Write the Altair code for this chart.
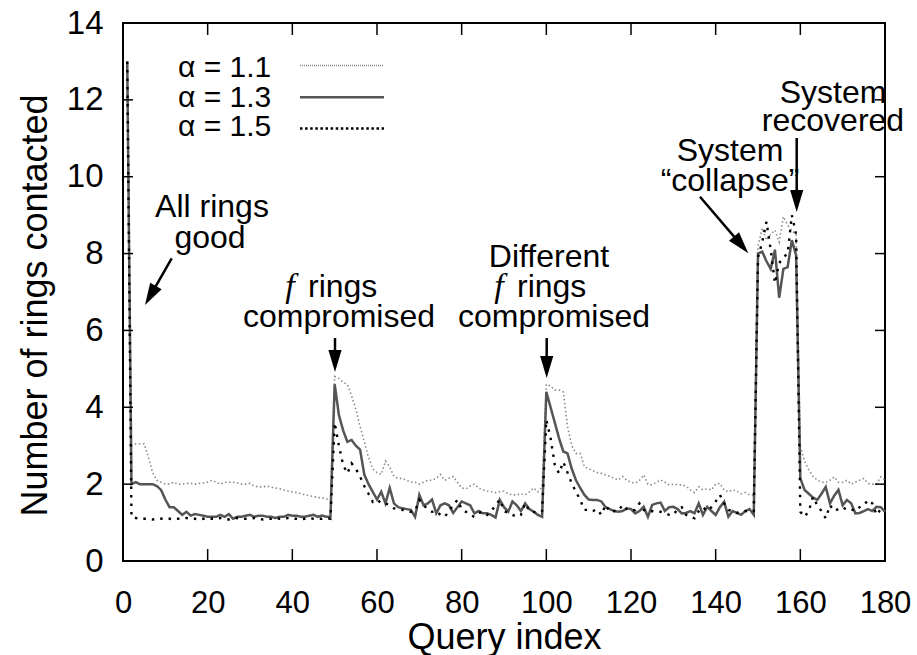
import math
import altair as alt
import pandas as pd

# ---------------- data ----------------
query = list(range(1, 181))

alpha_11 = [
    13, 3.0, 3.05, 3.05, 3.05, 2.7, 2.3, 2.1, 2.05, 2.0,
    2.0, 2.05, 2.0, 2.0, 2.02, 2.02, 2.0, 2.02, 2.03, 2.05,
    2.1, 2.05, 2.0, 2.05, 2.05, 2.05, 2.03, 2.0, 2.0, 2.02,
    1.95, 1.93, 1.93, 1.95, 1.92, 1.9, 1.88, 1.85, 1.82, 1.8,
    1.78, 1.75, 1.72, 1.7, 1.68, 1.65, 1.65, 1.62, 1.58, 4.8,
    4.75, 4.65, 4.6, 4.3, 3.95, 3.5, 3.1, 2.7, 2.4, 2.3,
    2.25, 2.6, 2.45, 2.2, 2.15, 2.15, 2.1, 2.05, 2.05, 2.0,
    2.05, 2.1, 2.1, 2.15, 2.25, 2.1, 2.15, 2.2, 2.05, 1.9,
    1.88, 1.95, 2.0, 1.9, 1.85, 1.82, 1.8, 1.78, 1.8, 1.82,
    1.75, 1.72, 1.72, 1.75, 1.72, 1.8, 1.9, 1.8, 1.93, 4.6,
    4.55, 4.45, 4.45, 4.4, 3.5, 3.0, 2.8, 2.8, 2.45, 2.4,
    2.35, 2.3, 2.28, 2.24, 2.2, 2.15, 2.11, 2.2, 2.1, 2.05,
    2.02, 2.1, 2.24, 2.0, 1.98, 2.05, 2.11, 2.05, 1.98, 2.0,
    1.98, 1.98, 1.95, 1.85, 1.78, 1.93, 1.85, 1.88, 1.85, 2.0,
    2.02, 1.85, 1.8, 1.85, 1.82, 1.75, 1.78, 1.72, 1.7, 8.2,
    8.66, 8.35, 8.5, 8.61, 8.3, 8.96, 8.74, 8.6, 8.5, 2.97,
    2.6, 2.37, 2.2, 2.11, 2.05, 2.04, 2.1, 2.19, 2.05, 2.05,
    2.1, 2.0, 2.05, 2.1, 2.15, 2.02, 2.0, 2.0, 2.19, 2.1,
]

alpha_13 = [
    13, 2.0, 2.05, 2.0, 2.0, 2.0, 2.0, 1.95, 1.85, 1.6,
    1.4, 1.4, 1.3, 1.2, 1.28, 1.18, 1.22, 1.2, 1.18, 1.15,
    1.15, 1.15, 1.2, 1.15, 1.22, 1.1, 1.15, 1.15, 1.18, 1.2,
    1.15, 1.18, 1.18, 1.15, 1.15, 1.12, 1.15, 1.15, 1.2, 1.18,
    1.18, 1.15, 1.15, 1.18, 1.2, 1.15, 1.18, 1.15, 1.15, 4.6,
    3.8, 3.4, 3.1, 3.15, 3.0, 2.9, 2.25, 2.0, 1.8, 1.6,
    1.8, 1.5, 1.9, 1.5, 1.4, 1.37, 1.35, 1.33, 1.15, 1.72,
    1.45, 1.5, 1.6, 1.24, 1.45, 1.5, 1.45, 1.25, 1.4, 1.55,
    1.5, 1.45, 1.24, 1.3, 1.24, 1.24, 1.2, 1.13, 1.59, 1.4,
    1.28, 1.55, 1.45, 1.3, 1.5, 1.35, 1.28, 1.2, 1.15, 4.4,
    4.0, 3.6, 3.2, 2.85, 2.8, 2.4, 2.1, 1.9, 1.72, 1.6,
    1.59, 1.59, 1.55, 1.4, 1.35, 1.3, 1.28, 1.3, 1.37, 1.35,
    1.24, 1.3, 1.41, 1.15, 1.46, 1.5, 1.52, 1.3, 1.4, 1.41,
    1.35, 1.24, 1.25, 1.3, 1.24, 1.5, 1.2, 1.41, 1.3, 1.2,
    1.4, 1.54, 1.15, 1.3, 1.25, 1.2, 1.3, 1.35, 1.2, 8.0,
    8.05, 7.8, 7.6, 8.1, 6.85, 7.6, 7.65, 8.35, 7.95, 2.15,
    1.85, 1.75, 1.65, 1.59, 1.75, 1.93, 1.5, 1.7, 1.85, 1.45,
    1.59, 1.5, 1.24, 1.25, 1.3, 1.35, 1.3, 1.41, 1.4, 1.28,
]

alpha_15 = [
    13, 1.15, 1.12, 1.1, 1.1, 1.1, 1.08, 1.1, 1.1, 1.12,
    1.1, 1.08, 1.1, 1.1, 1.12, 1.1, 1.1, 1.08, 1.1, 1.12,
    1.1, 1.1, 1.12, 1.1, 1.08, 1.1, 1.12, 1.1, 1.1, 1.1,
    1.12, 1.1, 1.08, 1.1, 1.1, 1.12, 1.1, 1.1, 1.12, 1.1,
    1.1, 1.08, 1.1, 1.12, 1.1, 1.1, 1.1, 1.12, 1.1, 3.6,
    3.0, 2.5, 2.28, 2.54, 2.4, 2.2, 1.95, 1.75, 1.54, 1.6,
    1.5, 1.5, 1.45, 1.37, 1.35, 1.33, 1.3, 1.28, 1.3, 1.59,
    1.45, 1.35, 1.28, 1.3, 1.2, 1.15, 1.3, 1.45, 1.59, 1.35,
    1.28, 1.2, 1.15, 1.25, 1.28, 1.2, 1.3, 1.45, 1.6, 1.3,
    1.25, 1.2, 1.15, 1.2, 1.5, 1.3, 1.28, 1.25, 1.3, 3.67,
    3.2, 2.5, 2.28, 2.58, 2.3, 2.02, 1.8, 1.59, 1.33, 1.33,
    1.3, 1.35, 1.2, 1.46, 1.28, 1.3, 1.3, 1.46, 1.35, 1.3,
    1.33, 1.5, 1.33, 1.28, 1.3, 1.28, 1.28, 1.25, 1.2, 1.2,
    1.35, 1.4, 1.2, 1.15, 1.11, 1.3, 1.4, 1.3, 1.4, 1.55,
    1.72, 1.5, 1.33, 1.3, 1.25, 1.28, 1.3, 1.28, 1.3, 7.9,
    8.3, 8.83, 8.1, 7.23, 7.75, 7.9, 8.0, 9.0, 8.5, 1.28,
    1.15, 1.3, 1.67, 1.45, 1.3, 1.11, 1.45, 1.3, 1.35, 1.4,
    1.33, 1.35, 1.3, 1.4, 1.45, 1.59, 1.5, 1.2, 1.35, 1.3,
]

series_labels = ["α = 1.1", "α = 1.3", "α = 1.5"]
x_tick_values = list(range(0, 181, 20))
y_tick_values = list(range(0, 15, 2))
x_title = "Query index"
y_title = "Number of rings contacted"

# ---------------- layout ----------------
W, H = 762, 538
LEFT, TOP = 123, 23
FONT = "Liberation Sans"
FS_X = 31     # x tick labels
FS_Y = 33     # y tick labels
FS_T = 36     # axis titles
FS_LEG = 30
FS_ANN = 32   # annotations

xs = alt.Scale(domain=[0, 180], nice=False, zero=False)
ys = alt.Scale(domain=[0, 14], nice=False, zero=False)


def q_of(px):
    return (px - LEFT) * 180.0 / W


def v_of(py):
    return (TOP + H - py) * 14.0 / H


line_styles = [
    dict(color="#8a8a8a", strokeWidth=1.6, strokeDash=[1.5, 2.5]),
    dict(color="#555555", strokeWidth=2.5),
    dict(color="#000000", strokeWidth=2.4, strokeDash=[2.5, 6]),
]
legend_dash = [[1.0, 1.0], None, [2.5, 2.6]]

x_axis = alt.Axis(values=x_tick_values, ticks=False, domain=False, grid=False,
                  labelFont=FONT, labelFontSize=FS_X, labelColor="black",
                  labelPadding=27, labelFlush=False, labelOverlap=False,
                  title=x_title, titleFont=FONT, titleFontSize=FS_T,
                  titleFontWeight="normal", titleColor="black",
                  titleX=W / 2, titleY=76, titleBaseline="middle", titleAlign="center")
y_axis = alt.Axis(values=y_tick_values, ticks=False, domain=False, grid=False,
                  labelFont=FONT, labelFontSize=FS_Y, labelColor="black",
                  labelPadding=20, labelOverlap=False,
                  title=y_title, titleFont=FONT, titleFontSize=FS_T,
                  titleFontWeight="normal", titleColor="black",
                  titleAngle=270, titleX=-88, titleY=282,
                  titleBaseline="middle", titleAlign="center")

X = lambda f: alt.X(f, scale=xs, axis=x_axis)
Y = lambda f: alt.Y(f, scale=ys, axis=y_axis)

layers = []
for i, vals in enumerate([alpha_11, alpha_13, alpha_15]):
    df = pd.DataFrame({"q": query, "v": vals})
    layers.append(alt.Chart(df).mark_line(strokeCap="butt", **line_styles[i]).encode(
        x=X("q:Q"), y=Y("v:Q")))

# inward ticks on all four sides
xt = pd.DataFrame({"q": x_tick_values[1:-1]})
yt = pd.DataFrame({"v": y_tick_values[1:-1]})
tick_style = dict(color="black", strokeWidth=1.5)
layers.append(alt.Chart(xt).mark_rule(**tick_style).encode(
    x=X("q:Q"), y=alt.value(H), y2=alt.value(H - 12)))
layers.append(alt.Chart(xt).mark_rule(**tick_style).encode(
    x=X("q:Q"), y=alt.value(0), y2=alt.value(12)))
layers.append(alt.Chart(yt).mark_rule(**tick_style).encode(
    y=Y("v:Q"), x=alt.value(0), x2=alt.value(10)))
layers.append(alt.Chart(yt).mark_rule(**tick_style).encode(
    y=Y("v:Q"), x=alt.value(W), x2=alt.value(W - 10)))

# legend (drawn inside the plot, gnuplot style)
leg_text_base = [76.7, 106.7, 135.5]
leg_line_y = [65.5, 97.3, 128.5]
leg_df = pd.DataFrame({"label": series_labels,
                       "q": [q_of(178)] * 3,
                       "v": [v_of(y) for y in leg_text_base]})
layers.append(alt.Chart(leg_df).mark_text(font=FONT, fontSize=FS_LEG, align="left",
                                          baseline="alphabetic", color="black").encode(
    x=X("q:Q"), y=Y("v:Q"), text="label:N"))
for i in range(3):
    st = dict(line_styles[i])
    if legend_dash[i] is not None:
        st["strokeDash"] = legend_dash[i]
    else:
        st.pop("strokeDash", None)
    ldf = pd.DataFrame({"q": [q_of(300)], "q2": [q_of(384)], "v": [v_of(leg_line_y[i])]})
    layers.append(alt.Chart(ldf).mark_rule(strokeCap="butt", **st).encode(
        x=X("q:Q"), x2="q2:Q", y=Y("v:Q")))

# annotations (pixel anchor, converted to data units)
ann = [
    ("All rings", 212, 216.7, "center"),
    ("good", 210, 248.3, "center"),
    ("rings", 308, 297, "left"),
    ("compromised", 339, 327, "center"),
    ("Different", 549, 267, "center"),
    ("rings", 517, 297, "left"),
    ("compromised", 554, 327, "center"),
    ("System", 730, 161, "center"),
    ("\u201ccollapse\u201d", 730, 191, "center"),
    ("System", 833, 103, "center"),
    ("recovered", 833, 131, "center"),
]
for align in ["center", "left"]:
    adf = pd.DataFrame([{"t": t, "q": q_of(px), "v": v_of(py)} for t, px, py, a in ann if a == align])
    layers.append(alt.Chart(adf).mark_text(font=FONT, fontSize=FS_ANN, align=align,
                                           baseline="alphabetic", color="black").encode(
        x=X("q:Q"), y=Y("v:Q"), text="t:N"))
fdf = pd.DataFrame({"t": ["f", "f"], "q": [q_of(290), q_of(499)], "v": [v_of(297), v_of(297)]})
layers.append(alt.Chart(fdf).mark_text(font="Liberation Serif", fontStyle="italic", fontSize=FS_ANN + 2,
                                       align="center", baseline="alphabetic", color="black").encode(
    x=X("q:Q"), y=Y("v:Q"), text="t:N"))

# arrows
arrows = [
    ((171.7, 258.3), (145.0, 305.0)),
    ((335.0, 338.0), (335.0, 372.0)),
    ((546.7, 338.0), (546.7, 378.0)),
    ((700.0, 196.7), (748.3, 253.3)),
    ((796.7, 138.0), (796.7, 212.0)),
]
HEAD = "M0,0L-0.3,-1L0.3,-1Z"
for (sx, sy), (tx, ty) in arrows:
    dx, dy = tx - sx, ty - sy
    L = math.hypot(dx, dy)
    ex, ey = tx - dx / L * 14, ty - dy / L * 14
    sdf = pd.DataFrame({"q": [q_of(sx)], "v": [v_of(sy)], "q2": [q_of(ex)], "v2": [v_of(ey)]})
    layers.append(alt.Chart(sdf).mark_rule(color="black", strokeWidth=2.5).encode(
        x=X("q:Q"), y=Y("v:Q"), x2="q2:Q", y2="v2:Q"))
    ang = math.degrees(math.atan2(-dx, dy)) % 360
    hdf = pd.DataFrame({"q": [q_of(tx)], "v": [v_of(ty)]})
    layers.append(alt.Chart(hdf).mark_point(shape=HEAD, size=1936, filled=True, color="black",
                                            opacity=1, strokeWidth=0, angle=ang).encode(
        x=X("q:Q"), y=Y("v:Q")))

chart = alt.layer(*layers).properties(
    width=W, height=H,
    autosize=alt.AutoSizeParams(type="none"),
    padding={"left": LEFT, "top": TOP, "right": 917 - LEFT - W, "bottom": 655 - TOP - H},
    background="white",
).configure_view(stroke="black", strokeWidth=2)

chart.save("out.html", embed_options={"renderer": "svg", "actions": False})
